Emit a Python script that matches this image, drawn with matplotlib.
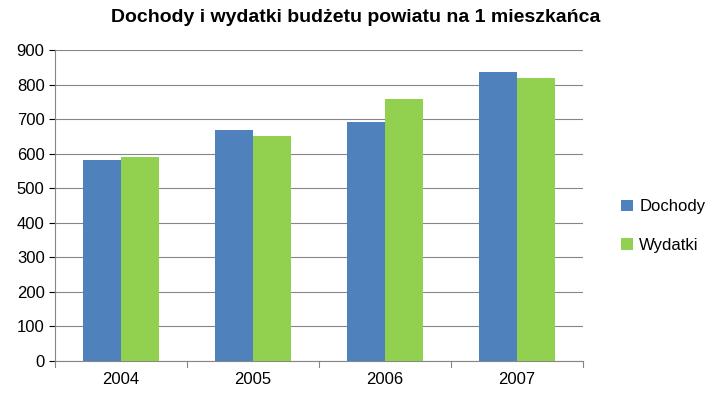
import matplotlib
matplotlib.use("Agg")
import matplotlib.pyplot as plt
import numpy as np

years = ["2004", "2005", "2006", "2007"]
dochody = [583, 668, 692, 836]
wydatki = [590, 652, 758, 820]

plt.rcParams['font.family'] = ['Liberation Sans', 'DejaVu Sans']
fig = plt.figure(figsize=(7.12, 4.0), dpi=100)
ax = fig.add_axes([55/712, 1-361/400, (583-55)/712, (361-50)/400])
x = np.arange(len(years))
w = 0.29
ax.bar(x - w/2, dochody, w, color="#4F81BD", label="Dochody", zorder=3)
ax.bar(x + w/2, wydatki, w, color="#92D050", label="Wydatki", zorder=3)
ax.set_xlim(-0.5, 3.5)
ax.set_ylim(0, 900)
ax.set_yticks(range(0, 901, 100))
ax.set_xticks(x)
ax.set_xticklabels(years)
ax.yaxis.grid(True, color="#868686", linewidth=0.8, zorder=0)
for s in ["top", "right"]:
    ax.spines[s].set_visible(False)
ax.spines["left"].set_color("#868686")
ax.spines["bottom"].set_color("#868686")
ax.tick_params(axis="both", labelsize=12, colors="black", length=4)
ax.tick_params(axis="x", length=0, pad=8)
for xv in np.arange(-0.5, 4, 1):
    ax.plot([xv, xv], [0, -18], color="#868686", lw=0.8, clip_on=False)
fig.text(0.5, 1-18/400, "Dochody i wydatki budżetu powiatu na 1 mieszkańca",
         ha="center", va="center", fontsize=14, fontweight="bold")
fig.legend(loc="center left", bbox_to_anchor=(606/712, 1-226/400), frameon=False,
           fontsize=12, handlelength=0.7, handleheight=0.7, labelspacing=1.4, handletextpad=0.4)
fig.savefig("out.png", dpi=100)
